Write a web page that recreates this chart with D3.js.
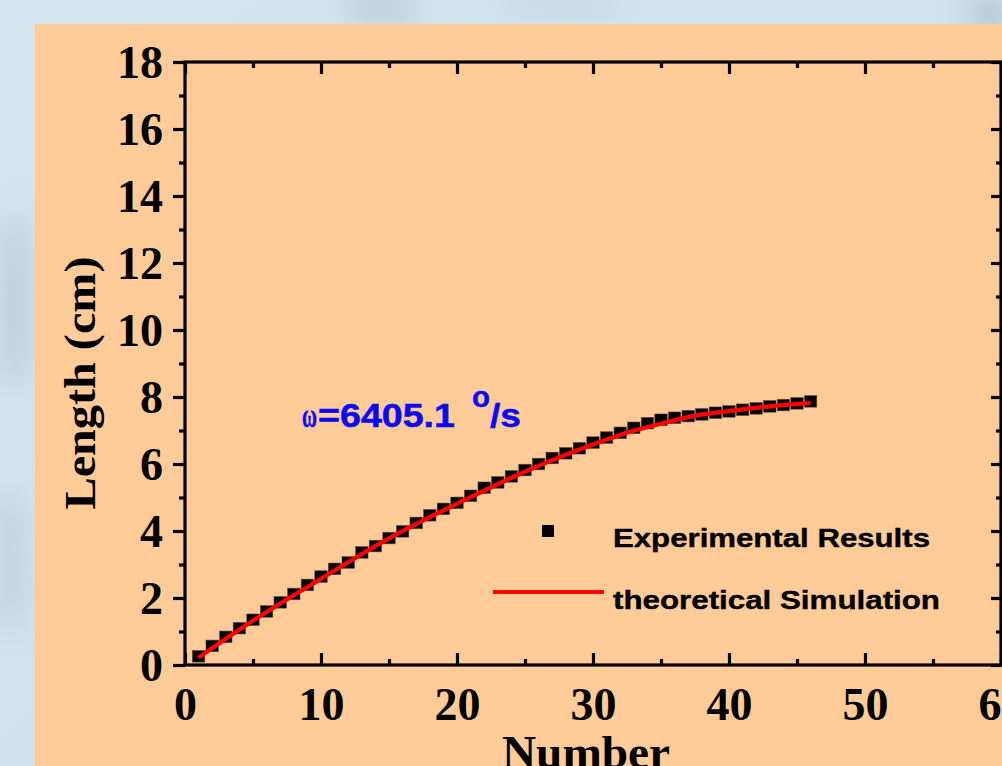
<!DOCTYPE html>
<html>
<head>
<meta charset="utf-8">
<script src="https://cdn.jsdelivr.net/npm/d3@7/dist/d3.min.js"></script>
<style>
  html, body { margin: 0; padding: 0; overflow: hidden; background: #d2e3ec; }
  svg { display: block; }
</style>
</head>
<body>
<svg id="chart" width="1002" height="766"></svg>
<script>
// ---------- data ----------
const expNumber = [1,2,3,4,5,6,7,8,9,10,11,12,13,14,15,16,17,18,19,20,21,22,23,24,25,26,27,28,29,30,31,32,33,34,35,36,37,38,39,40,41,42,43,44,45,46];
const expLength = [0.26,0.57,0.84,1.10,1.35,1.60,1.87,2.12,2.39,2.64,2.87,3.06,3.36,3.55,3.79,3.99,4.24,4.47,4.66,4.84,5.05,5.29,5.45,5.63,5.82,6.00,6.18,6.32,6.47,6.64,6.79,6.93,7.08,7.22,7.32,7.38,7.43,7.48,7.53,7.57,7.62,7.66,7.72,7.76,7.81,7.87];
const simNumber = [1, 5, 10, 15, 20, 25, 30, 33, 35, 37, 40, 43, 46];
const simLength = [0.22, 1.32, 2.57, 3.78, 4.81, 5.77, 6.58, 6.99, 7.20, 7.40, 7.58, 7.72, 7.82];
const xTicks = [0, 10, 20, 30, 40, 50, 60];
const xMinorTicks = [5, 15, 25, 35, 45, 55];
const yTicks = [0, 2, 4, 6, 8, 10, 12, 14, 16, 18];
const yMinorTicks = [1, 3, 5, 7, 9, 11, 13, 15, 17];
const legendLabels = ["Experimental Results", "theoretical Simulation"];
const xTitle = "Number";
const yTitle = "Length (cm)";

// ---------- layout ----------
const svg = d3.select("#chart");
const pLeft = 185, pRight = 1001, pTop = 62, pBottom = 665;
const x = d3.scaleLinear().domain([0, 60]).range([pLeft, pRight]);
const y = d3.scaleLinear().domain([0, 18]).range([pBottom, pTop]);
const serif = "'Liberation Serif', 'Times New Roman', serif";
const sans = "'Liberation Sans', Arial, sans-serif";

// background
const defs = svg.append("defs");
const blur = defs.append("filter").attr("id", "blur").attr("x", "-50%").attr("y", "-50%").attr("width", "200%").attr("height", "200%");
blur.append("feGaussianBlur").attr("stdDeviation", 14);
const bgGrad = defs.append("linearGradient").attr("id", "bgGrad").attr("x1", 0).attr("y1", 0).attr("x2", 1).attr("y2", 1);
bgGrad.append("stop").attr("offset", "0%").attr("stop-color", "#d6e6ef");
bgGrad.append("stop").attr("offset", "100%").attr("stop-color", "#c8dce6");
svg.append("rect").attr("width", 1002).attr("height", 766).attr("fill", "url(#bgGrad)");
const blobs = svg.append("g").attr("filter", "url(#blur)");
blobs.append("ellipse").attr("cx", 380).attr("cy", 8).attr("rx", 40).attr("ry", 14).attr("fill", "#aab9c2").attr("opacity", 0.6);
blobs.append("ellipse").attr("cx", 990).attr("cy", 14).attr("rx", 20).attr("ry", 14).attr("fill", "#9fb1bb").attr("opacity", 0.7);
blobs.append("ellipse").attr("cx", 15).attr("cy", 300).attr("rx", 14).attr("ry", 90).attr("fill", "#a9bcc6").attr("opacity", 0.6);
blobs.append("ellipse").attr("cx", 10).attr("cy", 560).attr("rx", 12).attr("ry", 70).attr("fill", "#b1c3cc").attr("opacity", 0.6);
blobs.append("ellipse").attr("cx", 560).attr("cy", 6).attr("rx", 70).attr("ry", 10).attr("fill", "#bccdd6").attr("opacity", 0.5);

// peach panel
svg.append("rect").attr("x", 35).attr("y", 24).attr("width", 1002 - 35).attr("height", 766 - 24).attr("fill", "#ffcb98");

// ---------- data marks ----------
const pts = expNumber.map((n, i) => ({ n, v: expLength[i] }));
svg.append("g").selectAll("rect").data(pts).join("rect")
  .attr("x", d => x(d.n) - 6.2).attr("y", d => y(d.v) - 5.8)
  .attr("width", 12.4).attr("height", 11.6)
  .attr("fill", "#000").attr("stroke", "#6b4a30").attr("stroke-width", 0.6);

const simPts = simNumber.map((n, i) => ({ n, v: simLength[i] }));
svg.append("path").datum(simPts)
  .attr("d", d3.line().x(d => x(d.n)).y(d => y(d.v)).curve(d3.curveMonotoneX))
  .attr("fill", "none").attr("stroke", "#ff0000").attr("stroke-width", 4.2);

// ---------- axes ----------
const axisW = 3.2;
function styleAxis(g) {
  g.select(".domain").remove();
  g.selectAll(".tick line").attr("stroke", "#000").attr("stroke-width", axisW);
}
// left (outward ticks)
svg.append("g").attr("transform", `translate(${pLeft},0)`)
  .call(d3.axisLeft(y).tickValues(yTicks).tickSize(12).tickPadding(10).tickFormat(d3.format("d")))
  .call(styleAxis)
  .call(g => g.selectAll("text").attr("font-family", serif).attr("font-weight", "bold").attr("font-size", 46).attr("fill", "#000").attr("dy", "0.34em"));
svg.append("g").attr("transform", `translate(${pLeft},0)`)
  .call(d3.axisLeft(y).tickValues(yMinorTicks).tickSize(6).tickFormat(""))
  .call(styleAxis);
// right (inward ticks)
svg.append("g").attr("transform", `translate(${pRight},0)`)
  .call(d3.axisLeft(y).tickValues(yTicks).tickSize(10).tickFormat(""))
  .call(styleAxis);
svg.append("g").attr("transform", `translate(${pRight},0)`)
  .call(d3.axisLeft(y).tickValues(yMinorTicks).tickSize(5).tickFormat(""))
  .call(styleAxis);
// bottom (inward ticks, labels below)
svg.append("g").attr("transform", `translate(0,${pBottom})`)
  .call(d3.axisTop(x).tickValues(xTicks).tickSize(12).tickFormat(""))
  .call(styleAxis);
svg.append("g").attr("transform", `translate(0,${pBottom})`)
  .call(d3.axisTop(x).tickValues(xMinorTicks).tickSize(6).tickFormat(""))
  .call(styleAxis);
svg.append("g").attr("transform", `translate(0,${pBottom})`)
  .call(d3.axisBottom(x).tickValues(xTicks).tickSize(0).tickPadding(22).tickFormat(d3.format("d")))
  .call(g => g.select(".domain").remove())
  .call(g => g.selectAll("text").attr("font-family", serif).attr("font-weight", "bold").attr("font-size", 46).attr("fill", "#000"));
// top (inward ticks)
svg.append("g").attr("transform", `translate(0,${pTop})`)
  .call(d3.axisBottom(x).tickValues(xTicks).tickSize(12).tickFormat(""))
  .call(styleAxis);
svg.append("g").attr("transform", `translate(0,${pTop})`)
  .call(d3.axisBottom(x).tickValues(xMinorTicks).tickSize(6).tickFormat(""))
  .call(styleAxis);
// frame
svg.append("rect").attr("x", pLeft).attr("y", pTop).attr("width", pRight - pLeft).attr("height", pBottom - pTop)
  .attr("fill", "none").attr("stroke", "#000").attr("stroke-width", axisW);

// ---------- titles ----------
svg.append("text").attr("x", 586).attr("y", 768).attr("text-anchor", "middle")
  .attr("font-family", serif).attr("font-weight", "bold").attr("font-size", 46)
  .attr("textLength", 168).attr("lengthAdjust", "spacingAndGlyphs").text(xTitle);
svg.append("text").attr("transform", "translate(95,383) rotate(-90)").attr("text-anchor", "middle")
  .attr("font-family", serif).attr("font-weight", "bold").attr("font-size", 44)
  .attr("textLength", 253).attr("lengthAdjust", "spacingAndGlyphs").text(yTitle);

// ---------- annotation ----------
const blue = "#0a0af2";
const ann = svg.append("text").attr("fill", blue).attr("font-family", sans).attr("font-weight", "bold")
  .attr("stroke", blue).attr("stroke-width", 0.5).attr("y", 427);
ann.append("tspan").attr("x", 302).attr("font-family", serif).attr("font-size", 33)
  .attr("textLength", 15).attr("lengthAdjust", "spacingAndGlyphs").text("ω");
ann.append("tspan").attr("x", 318).attr("font-size", 33)
  .attr("textLength", 137).attr("lengthAdjust", "spacingAndGlyphs").text("=6405.1");
ann.append("tspan").attr("x", 472).attr("y", 407).attr("font-size", 29)
  .attr("textLength", 18).attr("lengthAdjust", "spacingAndGlyphs").text("o");
ann.append("tspan").attr("x", 490).attr("y", 427).attr("font-size", 33)
  .attr("textLength", 31).attr("lengthAdjust", "spacingAndGlyphs").text("/s");

// ---------- legend ----------
const leg = svg.append("g");
leg.append("rect").attr("x", 542).attr("y", 525).attr("width", 12).attr("height", 12).attr("fill", "#000");
leg.append("line").attr("x1", 493).attr("x2", 604).attr("y1", 592).attr("y2", 592).attr("stroke", "#ff0000").attr("stroke-width", 4.2);
leg.append("text").attr("x", 613).attr("y", 547).attr("font-family", sans).attr("font-weight", "bold").attr("font-size", 26)
  .attr("stroke", "#000").attr("stroke-width", 0.4)
  .attr("textLength", 317).attr("lengthAdjust", "spacingAndGlyphs").text(legendLabels[0]);
leg.append("text").attr("x", 613).attr("y", 609).attr("font-family", sans).attr("font-weight", "bold").attr("font-size", 26)
  .attr("stroke", "#000").attr("stroke-width", 0.4)
  .attr("textLength", 327).attr("lengthAdjust", "spacingAndGlyphs").text(legendLabels[1]);
</script>
</body>
</html>
